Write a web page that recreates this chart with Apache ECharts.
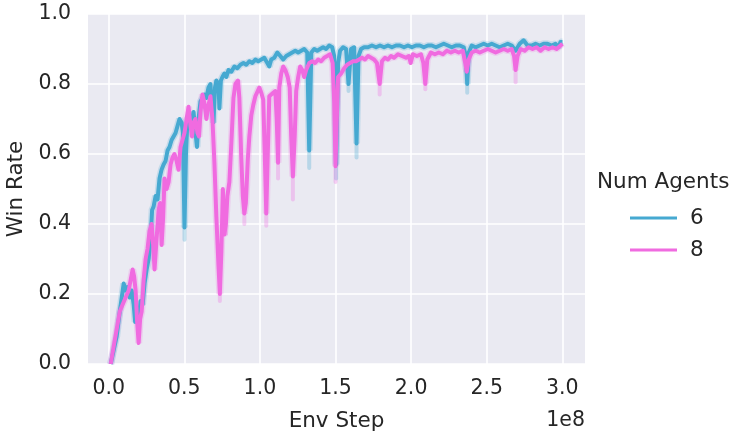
<!DOCTYPE html>
<html>
<head>
<meta charset="utf-8">
<script src="https://cdn.jsdelivr.net/npm/echarts@6/dist/echarts.min.js"></script>
<style>
  html, body { margin: 0; padding: 0; background: #ffffff; }
  #chart { width: 735px; height: 434px; }
</style>
</head>
<body>
<div id="chart"></div>
<script>
// Env steps in millions; win rate in [0, 1]
const steps6 = [1.3,3.3,5.3,7.3,8.6,9.9,11.2,12.5,13.9,15.2,16.5,17.5,18.5,19.8,21.1,22.4,23.7,25.1,26.4,27.7,28.7,29.7,31.0,32.3,33.6,35.0,36.3,37.6,38.9,40.2,41.6,42.9,44.2,45.5,46.8,48.2,49.1,50.1,51.1,52.1,53.4,54.7,56.1,57.4,58.4,59.4,60.7,62.0,63.3,64.6,66.0,67.3,68.3,69.3,70.3,71.2,72.6,73.2,74.2,75.2,76.5,77.8,79.2,81.1,83.1,85.1,87.1,89.1,91.0,93.0,95.0,97.0,98.9,100.9,102.9,104.9,106.2,107.5,109.5,111.5,113.5,115.4,117.4,119.4,121.4,123.4,125.3,127.3,129.3,131.3,132.6,134.0,135.9,137.9,139.8,141.8,143.8,145.8,147.8,149.1,150.4,151.7,153.0,155.0,157.0,158.6,160.3,162.3,163.9,165.2,166.9,168.9,171.5,174.1,176.8,179.4,182.1,184.7,187.3,190.0,192.6,195.3,197.9,200.5,203.2,205.8,208.4,211.1,213.7,216.4,219.0,221.6,224.3,226.9,229.6,232.2,234.8,236.1,237.1,238.1,240.1,242.7,245.4,248.0,250.7,253.3,255.9,258.6,261.2,263.9,266.5,269.1,271.8,274.4,277.0,279.7,282.3,285.0,287.6,290.2,292.9,295.5,297.5,298.8,300.1];
const winRate6 = [0.0,0.04,0.08,0.15,0.19,0.23,0.21,0.22,0.19,0.21,0.17,0.12,0.15,0.13,0.18,0.17,0.23,0.27,0.30,0.36,0.44,0.45,0.48,0.47,0.53,0.556,0.57,0.58,0.61,0.62,0.64,0.65,0.66,0.68,0.70,0.69,0.66,0.39,0.60,0.70,0.71,0.69,0.72,0.66,0.62,0.70,0.75,0.76,0.77,0.76,0.79,0.80,0.73,0.69,0.79,0.81,0.80,0.73,0.81,0.82,0.83,0.82,0.84,0.835,0.85,0.845,0.855,0.86,0.855,0.865,0.86,0.87,0.865,0.87,0.875,0.86,0.85,0.87,0.875,0.89,0.88,0.87,0.88,0.885,0.89,0.895,0.89,0.895,0.90,0.89,0.61,0.89,0.90,0.895,0.90,0.905,0.90,0.91,0.905,0.88,0.57,0.86,0.895,0.905,0.90,0.80,0.90,0.905,0.63,0.88,0.90,0.905,0.905,0.91,0.905,0.91,0.905,0.91,0.905,0.91,0.91,0.905,0.91,0.905,0.91,0.91,0.905,0.91,0.91,0.905,0.91,0.915,0.91,0.905,0.91,0.91,0.905,0.88,0.80,0.89,0.91,0.905,0.91,0.915,0.91,0.915,0.91,0.905,0.91,0.915,0.91,0.895,0.915,0.925,0.91,0.91,0.915,0.91,0.915,0.915,0.91,0.915,0.905,0.92,0.92];

const steps8 = [1.3,3.3,5.3,7.3,9.2,11.2,13.2,14.5,15.8,16.8,17.8,18.8,19.8,20.8,21.8,23.1,24.4,25.7,27.0,28.4,29.4,30.3,31.7,33.0,34.0,35.0,36.0,36.9,38.3,39.6,40.9,42.2,43.5,44.9,46.2,47.5,48.8,50.1,51.5,52.8,54.1,55.1,56.1,57.4,58.7,59.7,60.7,62.0,63.3,64.6,66.0,67.3,68.6,69.9,71.2,72.6,73.5,74.5,75.5,76.5,77.5,78.5,79.8,81.1,82.5,83.8,85.5,86.4,87.7,88.7,89.7,90.7,92.0,93.0,94.3,95.6,97.0,98.3,99.6,100.9,102.2,103.2,104.2,105.2,106.2,107.5,108.8,110.2,111.1,112.0,112.8,114.1,115.4,116.8,118.4,119.7,120.7,121.8,123.0,124.0,125.3,126.6,128.0,129.3,130.6,132.6,134.6,136.5,138.5,140.5,142.5,144.5,146.4,148.1,149.1,150.0,151.0,151.7,153.7,155.7,157.7,159.6,161.6,163.6,165.6,167.5,169.5,171.5,173.5,175.5,177.4,179.2,180.7,182.7,184.7,186.7,188.7,191.3,193.9,196.6,198.5,199.7,201.2,203.8,206.5,208.1,209.4,210.7,213.1,215.7,218.3,221.0,223.6,226.3,228.9,231.5,234.2,235.8,236.8,238.1,240.1,242.7,245.4,248.0,250.7,253.3,255.9,258.6,261.2,263.9,266.5,268.1,269.1,270.4,272.4,275.1,277.7,280.3,283.0,285.6,288.3,290.9,293.5,296.2,298.8,300.1];
const winRate8 = [0.0,0.05,0.10,0.15,0.17,0.19,0.21,0.24,0.27,0.25,0.21,0.12,0.06,0.13,0.15,0.24,0.30,0.33,0.38,0.40,0.34,0.27,0.36,0.44,0.46,0.34,0.42,0.53,0.50,0.52,0.57,0.59,0.60,0.58,0.555,0.62,0.64,0.66,0.70,0.735,0.68,0.65,0.69,0.70,0.66,0.65,0.72,0.77,0.745,0.70,0.74,0.765,0.70,0.575,0.42,0.28,0.20,0.32,0.50,0.37,0.40,0.48,0.52,0.63,0.76,0.80,0.81,0.76,0.585,0.48,0.43,0.46,0.585,0.65,0.71,0.74,0.765,0.77,0.79,0.775,0.755,0.60,0.43,0.60,0.765,0.77,0.775,0.78,0.70,0.575,0.79,0.83,0.85,0.84,0.82,0.79,0.65,0.536,0.65,0.78,0.82,0.85,0.84,0.82,0.84,0.86,0.865,0.86,0.87,0.865,0.875,0.88,0.885,0.86,0.75,0.565,0.72,0.82,0.83,0.845,0.855,0.86,0.865,0.865,0.87,0.875,0.87,0.88,0.875,0.87,0.86,0.80,0.865,0.875,0.87,0.88,0.875,0.885,0.88,0.875,0.88,0.86,0.885,0.88,0.885,0.86,0.80,0.87,0.89,0.885,0.89,0.885,0.895,0.89,0.895,0.89,0.895,0.86,0.835,0.87,0.89,0.895,0.89,0.895,0.90,0.895,0.89,0.895,0.90,0.895,0.90,0.88,0.84,0.88,0.90,0.895,0.905,0.90,0.905,0.895,0.905,0.90,0.905,0.90,0.91,0.915];

// Lower edge of the confidence band where it drops below a dip
const tailSteps6 = [50.1,132.6,150.4,158.6,163.9,237.1];
const tailTop6   = [0.39,0.61,0.57,0.80,0.63,0.80];
const tailLow6   = [0.355,0.56,0.53,0.78,0.59,0.775];
const tailSteps8 = [73.5,77.5,89.7,104.2,112.0,121.8,150.0,179.2,209.4,269.1];
const tailTop8   = [0.20,0.40,0.43,0.43,0.575,0.536,0.565,0.80,0.80,0.84];
const tailLow8   = [0.18,0.37,0.40,0.395,0.53,0.47,0.52,0.77,0.785,0.805];

const xTicks = [0,50,100,150,200,250,300];
const seriesNames = ['6','8'];

const COLOR6 = '#46A9D1';
const COLOR8 = '#F06BE0';
const FONT = 'DejaVu Sans';
const INK = '#262626';

const zip = (xs, ys) => xs.map((x, i) => [x, ys[i]]);
const tails = (xs, tops, lows) => xs.map((x, i) => [x, tops[i], lows[i]]);

function tailRenderer(color) {
  return function (params, api) {
    const a = api.coord([api.value(0), api.value(1)]);
    const b = api.coord([api.value(0), api.value(2)]);
    return {
      type: 'line',
      shape: { x1: a[0], y1: a[1], x2: b[0], y2: b[1] },
      style: { stroke: color, lineWidth: 4, opacity: 0.3, lineCap: 'round' }
    };
  };
}

function lineSeries(name, data, color) {
  return {
    name: name, type: 'line', data: data, showSymbol: false, symbol: 'none',
    lineStyle: { color: color, width: 4, join: 'round' }, itemStyle: { color: color },
    z: 3, animation: false
  };
}
function haloSeries(data, color) {
  return {
    name: 'band', type: 'line', data: data, showSymbol: false, symbol: 'none',
    lineStyle: { color: color, width: 7, opacity: 0.22 }, silent: true,
    z: 2, animation: false
  };
}

const chart = echarts.init(document.getElementById('chart'), null, { renderer: 'canvas' });
chart.setOption({
  backgroundColor: '#ffffff',
  animation: false,
  textStyle: { fontFamily: FONT, color: INK },
  grid: { left: 88, top: 14, width: 497, height: 350, backgroundColor: '#EAEAF2', show: true, borderWidth: 0 },
  xAxis: {
    type: 'value', min: -13.7, max: 315,
    axisLine: { show: false },
    axisTick: { show: false, customValues: xTicks },
    splitLine: { show: true, lineStyle: { color: '#ffffff', width: 1.6 } },
    axisLabel: {
      customValues: xTicks, margin: 14, color: INK, fontFamily: FONT, fontSize: 20.5,
      formatter: v => (v / 100).toFixed(1)
    }
  },
  yAxis: {
    type: 'value', min: 0, max: 1, interval: 0.2,
    axisLine: { show: false }, axisTick: { show: false },
    splitLine: { show: true, lineStyle: { color: '#ffffff', width: 1.6 } },
    axisLabel: { margin: 17, color: INK, fontFamily: FONT, fontSize: 20.5, formatter: v => v.toFixed(1) }
  },
  legend: {
    data: seriesNames, orient: 'vertical', left: 625, top: 202, itemGap: 10,
    icon: 'rect', itemWidth: 47, itemHeight: 3,
    textStyle: { fontFamily: FONT, fontSize: 21.5, color: INK, padding: [0, 0, 0, 8] }
  },
  graphic: [
    { type: 'text', left: 597, top: 171, style: { text: 'Num Agents', font: '21.5px "DejaVu Sans"', fill: INK } },
    { type: 'text', x: 16, y: 189, rotation: Math.PI / 2, style: { text: 'Win Rate', font: '21.5px "DejaVu Sans"', fill: INK, align: 'center', verticalAlign: 'middle' } },
    { type: 'text', x: 336.5, y: 421, style: { text: 'Env Step', font: '21.5px "DejaVu Sans"', fill: INK, align: 'center', verticalAlign: 'middle' } },
    { type: 'text', x: 585, y: 421, style: { text: '1e8', font: '20.5px "DejaVu Sans"', fill: INK, align: 'right', verticalAlign: 'middle' } }
  ],
  series: [
    haloSeries(zip(steps6, winRate6), COLOR6),
    haloSeries(zip(steps8, winRate8), COLOR8),
    { name: 'tail6', type: 'custom', data: tails(tailSteps6, tailTop6, tailLow6), renderItem: tailRenderer(COLOR6), z: 1, silent: true },
    { name: 'tail8', type: 'custom', data: tails(tailSteps8, tailTop8, tailLow8), renderItem: tailRenderer(COLOR8), z: 1, silent: true },
    lineSeries(seriesNames[0], zip(steps6, winRate6), COLOR6),
    lineSeries(seriesNames[1], zip(steps8, winRate8), COLOR8)
  ]
});
</script>
</body>
</html>
